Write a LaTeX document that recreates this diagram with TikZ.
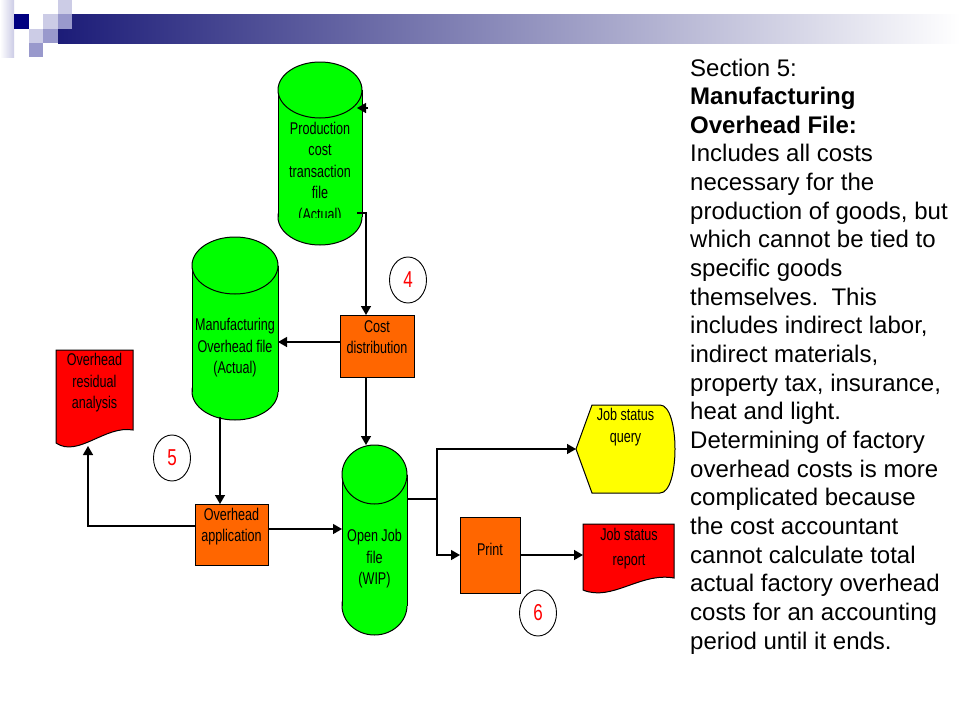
\documentclass[tikz,border=0pt]{standalone}
\usepackage{fontspec}
\setmainfont{Liberation Sans}
\newfontfamily\narrowfont[FakeStretch=0.74]{Liberation Sans}
\usetikzlibrary{shapes.geometric,arrows.meta,calc}

\definecolor{fgreen}{HTML}{00FF00}
\definecolor{forange}{HTML}{FF6600}
\definecolor{fred}{HTML}{FF0000}
\definecolor{fyellow}{HTML}{FFFF00}
\definecolor{barnavy}{RGB}{28,28,120}
\definecolor{sqnavy}{RGB}{0,0,128}
\definecolor{lavlight}{RGB}{204,204,230}
\definecolor{lavmid}{RGB}{153,153,204}

\newcommand\drawcyl[5]{% x1,x2,top,bottom,ry
  \pgfmathsetmacro\cylcx{(#1+#2)/2}
  \pgfmathsetmacro\cylrx{(#2-#1)/2}
  \filldraw[shapeline, fill=fgreen] (\cylcx,#4-#5) ellipse [x radius=\cylrx, y radius=#5];
  \fill[fgreen] (#1,#3+#5) rectangle (#2,#4-#5);
  \draw[shapeline] (#1,#3+#5) -- (#1,#4-#5) (#2,#3+#5) -- (#2,#4-#5);
  \filldraw[shapeline, fill=fgreen] (\cylcx,#3+#5) ellipse [x radius=\cylrx, y radius=#5];
}

\begin{document}
\begin{tikzpicture}[x=1pt,y=-1pt,
  shapeline/.style={draw=black, line width=1pt},
  arr/.style={draw=black, line width=1.4pt, -{Triangle[length=9pt,width=10pt]}},
  conn/.style={draw=black, line width=1.4pt},
  lbl/.style={font=\narrowfont\fontsize{17}{21.5}\selectfont, align=center, inner sep=0pt, text=black},
  numc/.style={ellipse, draw=black, line width=0.9pt, fill=white, minimum width=37pt, minimum height=46pt, inner sep=0pt, text=fred, font=\narrowfont\fontsize{23}{26}\selectfont},
  procbox/.style={draw=black, line width=1pt, fill=forange, inner sep=0pt, outer sep=0pt},
  hold/.style={inner sep=0pt, outer sep=0pt},
  body/.style={font=\fontsize{24}{28.65}\selectfont, anchor=base west, inner sep=0pt}
]
\useasboundingbox (0,0) rectangle (960,720);
\fill[white] (0,0) rectangle (960,720);

% header
\shade[left color=white, right color=lavlight] (0,0) rectangle (14,57);
\shade[left color=barnavy, right color=white] (58,14) rectangle (960,43);
\fill[sqnavy] (14,14) rectangle (29,29);
\fill[lavlight] (29,29) rectangle (43,43);
\fill[lavmid] (29,43) rectangle (43,57);
\fill[lavlight] (43,14) rectangle (58,29);
\fill[lavmid] (43,29) rectangle (58,43);
\fill[lavlight] (58,0) rectangle (72,14);
\fill[lavmid] (58,14) rectangle (72,29);

% cylinders
\drawcyl{278}{362}{62}{245}{28}
\node[hold, minimum width=84pt, minimum height=183pt] (prod) at (320,153.5) {};
\begin{scope}
  \clip (278,62) rectangle (362,217);
  \node[lbl] (prodt) at (320,173) {Production\\cost\\transaction\\file\\(Actual)};
\end{scope}

\drawcyl{192}{278}{237}{420}{28.5}
\node[hold, minimum width=86pt, minimum height=183pt] (mof) at (235,328.5) {};
\node[lbl] (moft) at (235,348) {Manufacturing\\Overhead file\\(Actual)};

\drawcyl{342}{407}{445}{635}{29.5}
\node[hold, minimum width=65pt, minimum height=190pt] (oj) at (374.5,540) {};
\node[lbl] (ojt) at (374.5,559) {Open Job\\file\\(WIP)};

% process boxes
\node[procbox, minimum width=74pt, minimum height=62pt] (cost) at (377,346) {};
\node[lbl] (costt) at (377,337) {Cost\\distribution};
\node[procbox, minimum width=73pt, minimum height=61pt] (oha) at (231.5,534.5) {};
\node[lbl] (ohat) at (231.5,526.5) {Overhead\\application};
\node[procbox, minimum width=60pt, minimum height=76pt] (print) at (490,555) {};
\node[lbl] (printt) at (490,549) {Print};

% documents
\filldraw[shapeline, fill=fred] (56,350) -- (133,350) -- (133,430) .. controls (105,425) and (78,458) .. (56,443) -- cycle;
\node[hold, minimum width=77pt, minimum height=98pt] (res) at (94.5,399) {};
\node[lbl] (rest) at (94.5,383) {Overhead\\residual\\analysis};
\coordinate (resbot) at (88,446);

\filldraw[shapeline, fill=fred] (583,524) -- (674,524) -- (674,578) .. controls (640,572) and (612,602) .. (583,590) -- cycle;
\node[hold, minimum width=91pt, minimum height=62pt] (report) at (628.5,555) {};
\node[lbl] (reportt) at (629,548.5) {Job status\\[3.5pt]report};

% display
\filldraw[shapeline, fill=fyellow] (576,449) -- (592,405) -- (660,405) .. controls (680,405) and (680,493) .. (660,493) -- (592,493) -- cycle;
\node[hold, minimum width=99pt, minimum height=88pt] (query) at (625.5,449) {};
\node[lbl] (queryt) at (625.5,427) {Job status\\query};

% numbered circles
\node[numc] (n4) at (408,280) {4};
\node[numc] (n5) at (172,458) {5};
\node[numc] (n6) at (538,613) {6};

% connectors
\coordinate (pinsrc) at (368,108);
\draw[arr] (pinsrc) -- ([xshift=-5pt]prod.east |- pinsrc);
\coordinate (pout) at (357,213);
\draw[arr] (pout) -| ([xshift=-11pt]cost.north);
\draw[arr] ([yshift=4pt]cost.west) -- ([yshift=4pt]cost.west -| mof.east);
\draw[arr] ([xshift=-11pt]cost.south) -- ([xshift=-11pt]cost.south |- oj.north);
\draw[arr] ([xshift=-15pt,yshift=3pt]mof.south) -- ([xshift=-15pt]mof.south |- oha.north);
\draw[arr] ([yshift=5.5pt]oha.east) -- ([yshift=5.5pt]oha.east -| oj.west);
\draw[arr] ([yshift=8.5pt]oha.west) -| (resbot);
\coordinate (br) at (437,499);
\draw[conn] ([yshift=41pt]oj.east) -- (br);
\draw[arr] (br) |- (query.west);
\draw[arr] (br) |- (print.west);
\draw[arr] (print.east) -- (print.east -| report.west);

% body text
\foreach \t [count=\i] in {{Section 5:},{\textbf{Manufacturing}},{\textbf{Overhead File:}},{Includes all costs},{necessary for the},{production of goods, but},{which cannot be tied to},{specific goods},{themselves.\ \ This},{includes indirect labor,},{indirect materials,},{property tax, insurance,},{heat and light.},{Determining of factory},{overhead costs is more},{complicated because},{the cost accountant},{cannot calculate total},{actual factory overhead},{costs for an accounting},{period until it ends.}}
  \node[body] (tx\i) at (690,{76+(\i-1)*28.65}) {\t};
\end{tikzpicture}
\end{document}
